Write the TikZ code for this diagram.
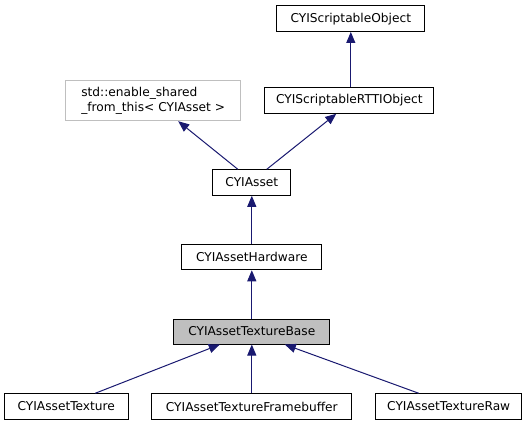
\documentclass[tikz,border=0pt]{standalone}
\usepackage{fontspec}
\setmainfont{DejaVu Sans}
\usetikzlibrary{arrows.meta}
\definecolor{edgeblue}{HTML}{191970}
\definecolor{graybox}{HTML}{BFBFBF}
\begin{document}
\begin{tikzpicture}[x=1pt,y=-1pt,
  cls/.style={draw=black, line width=1pt, fill=white, inner sep=0pt, align=center,
    font=\fontsize{12.2}{14.5}\selectfont, minimum height=25.5pt},
  ext/.style={cls, draw=graybox},
  cur/.style={cls, fill=graybox},
  inh/.style={draw=edgeblue, line width=1pt, -{Triangle[length=11pt,width=9pt]}}
]
\useasboundingbox (0,0) rectangle (529,425);
\node[cls, minimum width=148pt] (so) at (350.8,18.7) {CYIScriptableObject};
\node[cls, minimum width=169pt] (rtti) at (349.3,100.5) {CYIScriptableRTTIObject};
\node[ext, minimum width=175pt, minimum height=40pt, align=left] (std) at (153.2,100.7)
  {std::enable\_shared\\\_from\_this\textless{} CYIAsset \textgreater{}};
\node[cls, minimum width=78pt] (asset) at (251.8,182.5) {CYIAsset};
\node[cls, minimum width=140pt] (hw) at (251.8,257) {CYIAssetHardware};
\node[cur, minimum width=156pt, minimum height=25pt] (tb) at (251.8,331.5) {CYIAssetTextureBase};
\node[cls, minimum width=124pt] (tex) at (66.3,406.5) {CYIAssetTexture};
\node[cls, minimum width=200pt] (fb) at (251.8,406.5) {CYIAssetTextureFramebuffer};
\node[cls, minimum width=146pt] (raw) at (448.7,406.5) {CYIAssetTextureRaw};

\draw[inh] (rtti.north -| so.south) -- (so.south);
\draw[inh] ([xshift=-14pt]asset.north) -- ([xshift=25pt]std.south);
\draw[inh] ([xshift=15pt]asset.north) -- ([xshift=-13pt]rtti.south);
\draw[inh] (hw) -- (asset);
\draw[inh] (tb) -- (hw);
\draw[inh] ([xshift=29pt]tex.north) -- ([xshift=-32pt]tb.south);
\draw[inh] (fb) -- (tb);
\draw[inh] ([xshift=-30pt]raw.north) -- ([xshift=33pt]tb.south);
\end{tikzpicture}
\end{document}
